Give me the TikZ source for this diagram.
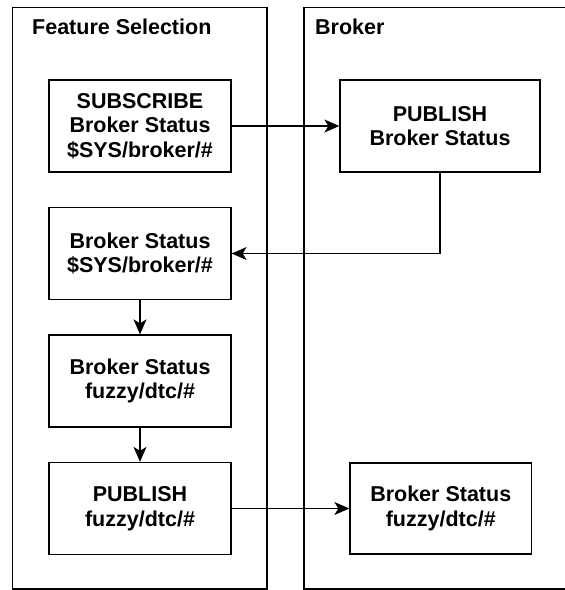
\documentclass[tikz,border=0pt]{standalone}
\usepackage{fontspec}
\setmainfont{Liberation Sans}
\usetikzlibrary{arrows.meta}
\begin{document}
\begin{tikzpicture}[x=1pt,y=-1pt,
  lbl/.style={font=\bfseries\fontsize{21.5}{24.7}\selectfont, align=center},
  box/.style={lbl, draw, line width=1.3pt, inner sep=0pt, minimum width=182pt, minimum height=92pt},
  lane/.style={draw, line width=1.4pt},
  conn/.style={line width=1.3pt, -{Stealth[length=15pt,width=13pt,inset=4pt]}},
  title/.style={font=\bfseries\fontsize{21.5}{24.7}\selectfont, anchor=base west, inner sep=0pt}]
\useasboundingbox (0,0) rectangle (565,590);
\draw[lane] (12.5,7.5) rectangle (267,589);
\draw[lane] (304,7.5) rectangle (580,589);
\node[title] (t1) at (32,34) {Feature Selection};
\node[title] (t2) at (315,34) {Broker};
\node[box] (b1) at (140,126) {SUBSCRIBE\\Broker Status\\\$SYS/broker/\#};
\node[box] (b2) at (140,253.5) {Broker Status\\\$SYS/broker/\#};
\node[box] (b3) at (140,381) {Broker Status\\fuzzy/dtc/\#};
\node[box] (b4) at (140,508.5) {PUBLISH\\fuzzy/dtc/\#};
\node[box, minimum width=200pt] (r1) at (440,126) {PUBLISH\\Broker Status};
\node[box, minimum width=181.5pt, minimum height=91pt] (r2) at (440.75,508.5) {Broker Status\\fuzzy/dtc/\#};
\draw[conn] (b1.east) -- (r1.west);
\draw[conn] (r1.south) |- (b2.east);
\draw[conn] (b2.south) -- (b3.north);
\draw[conn] (b3.south) -- (b4.north);
\draw[conn] (b4.east) -- (r2.west);
\end{tikzpicture}
\end{document}
